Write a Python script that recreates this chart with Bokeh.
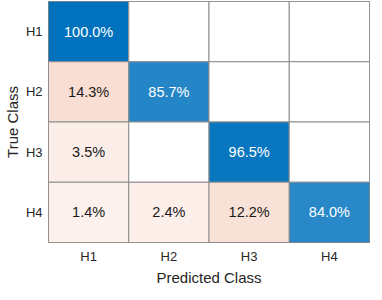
from bokeh.plotting import figure
from bokeh.models import FactorRange, ColumnDataSource
from bokeh.core.properties import value
from bokeh.embed import file_html
from bokeh.resources import INLINE

# ---- data ----
classes = ["H1", "H2", "H3", "H4"]
# row = true class, column = predicted class (percent of row)
row_H1 = [100.0, 0.0, 0.0, 0.0]
row_H2 = [14.3, 85.7, 0.0, 0.0]
row_H3 = [3.5, 0.0, 96.5, 0.0]
row_H4 = [1.4, 2.4, 12.2, 84.0]
matrix = [row_H1, row_H2, row_H3, row_H4]

DIAG = (0, 114, 189)
OFF = (217, 83, 25)
FONT = "Liberation Sans"
TXT = "#262626"


def blend(c, f):
    f = max(0.0, min(1.0, f))
    r, g, b = (round(255 + (ci - 255) * f) for ci in c)
    return "#%02x%02x%02x" % (r, g, b)


xs, ys, fills, labels, tcolors = [], [], [], [], []
for i, t in enumerate(classes):
    for j, pr in enumerate(classes):
        v = matrix[i][j]
        xs.append(pr)
        ys.append(t)
        if v == 0:
            fills.append("#ffffff")
            labels.append("")
        elif i == j:
            fills.append(blend(DIAG, v / 100.0))
            labels.append("%.1f%%" % v)
        else:
            fills.append(blend(OFF, 0.07 + 0.85 * v / 100.0))
            labels.append("%.1f%%" % v)
        tcolors.append("#ffffff" if (i == j and v > 50) else "#1a1a1a")

src = ColumnDataSource(dict(x=xs, y=ys, fill=fills, label=labels, tc=tcolors))

p = figure(frame_width=321, frame_height=241,
           x_range=FactorRange(*classes),
           y_range=FactorRange(*classes[::-1]),
           output_backend="svg", toolbar_location=None,
           min_border_left=43, min_border_right=2,
           min_border_top=1, min_border_bottom=42)

p.rect(x="x", y="y", width=1, height=1, source=src,
       fill_color="fill", line_color="#8c8c8c", line_width=1)
p.text(x="x", y="y", text="label", source=src, text_color="tc",
       text_align="center", text_baseline="middle",
       text_font=value(FONT), text_font_size="14.5px")

p.outline_line_color = "#7a7a7a"
p.outline_line_width = 1
p.grid.visible = False
p.background_fill_color = "#ffffff"
p.border_fill_color = "#ffffff"

for ax in (p.xaxis[0], p.yaxis[0]):
    ax.axis_line_color = None
    ax.major_tick_line_color = None
    ax.minor_tick_line_color = None
    ax.major_tick_out = 0
    ax.major_tick_in = 0
    ax.major_label_text_font = FONT
    ax.major_label_text_font_size = "13px"
    ax.major_label_text_color = TXT
    ax.axis_label_text_font = FONT
    ax.axis_label_text_font_size = "15px"
    ax.axis_label_text_font_style = "normal"
    ax.axis_label_text_color = TXT

p.xaxis.major_label_standoff = 6
p.xaxis.axis_label_standoff = 2
p.yaxis.major_label_standoff = 6
p.yaxis.axis_label_standoff = 2

p.xaxis.axis_label = "Predicted Class"
p.yaxis.axis_label = "True Class"

open("out.html", "w").write(file_html(p, INLINE))
